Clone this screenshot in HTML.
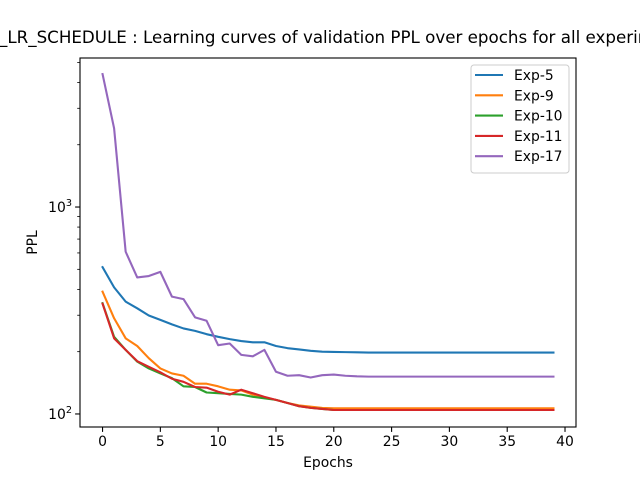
<!DOCTYPE html>
<html><head><meta charset="utf-8"><style>
body{margin:0;background:#fff}
svg{display:block;font-family:"DejaVu Sans","Liberation Sans",sans-serif}
</style></head><body>
<svg id="chart" width="640" height="480" viewBox="0 0 640 480">
<rect width="640" height="480" fill="#fff"/>
<text x="-1" y="43" font-size="16.7" fill="#000">_LR_SCHEDULE : Learning curves of validation PPL over epochs for all experiments</text>
<g id="plot"></g>
</svg>
<script>
const epochs = Array.from({length:40},(_,i)=>i);
const exp5 = [512,409,349,324,299,285,271,259,252,243,236,230,225,222,222,213,208,205,202,200,199.5,199,198.5,198,198,198,198,198,198,198,198,198,198,198,198,198,198,198,198,198];
const exp9 = [390,290,232,213,186,166,157,153,140,140,136,131,130,124,120,117,113,110,108.5,107,106.5,106.5,106.5,106.5,106.5,106.5,106.5,106.5,106.5,106.5,106.5,106.5,106.5,106.5,106.5,106.5,106.5,106.5,106.5,106.5];
const exp10 = [343,236,204,179,166,157,149,136,135,127,126,125,124,121,119,117,113,109,107,105.7,104.5,104.5,104.5,104.5,104.5,104.5,104.5,104.5,104.5,104.5,104.5,104.5,104.5,104.5,104.5,104.5,104.5,104.5,104.5,104.5];
const exp11 = [341,232,204,180,169,159,148,143,135,134,128,124,131,126,121,117,113,109,107,105.7,104.5,104.5,104.5,104.5,104.5,104.5,104.5,104.5,104.5,104.5,104.5,104.5,104.5,104.5,104.5,104.5,104.5,104.5,104.5,104.5];
const exp17 = [4390,2400,608,457,464,486,369,359,293,282,215,219,193,190,204,160,153,154,150,154,155,153,152,151.5,151.5,151.5,151.5,151.5,151.5,151.5,151.5,151.5,151.5,151.5,151.5,151.5,151.5,151.5,151.5,151.5];
const seriesNames = ["Exp-5","Exp-9","Exp-10","Exp-11","Exp-17"];
const xTicks = [0,5,10,15,20,25,30,35,40];

const NS="http://www.w3.org/2000/svg";
const g=document.getElementById('plot');
const L=80,R=576,T=58,B=427;
const xmin=-1.95,xmax=40.95;
const lmin=Math.log10(86.5),lmax=Math.log10(5250);
const sx=v=>L+(v-xmin)/(xmax-xmin)*(R-L);
const sy=v=>B-(Math.log10(v)-lmin)/(lmax-lmin)*(B-T);
function mk(t,a,p){const e=document.createElementNS(NS,t);for(const k in a)e.setAttribute(k,a[k]);(p||g).appendChild(e);return e;}

const colors=["#1f77b4","#ff7f0e","#2ca02c","#d62728","#9467bd"];
const data=[exp5,exp9,exp10,exp11,exp17];
data.forEach((s,k)=>{
  const p=mk('polyline',{points:s.map((v,i)=>sx(epochs[i]).toFixed(2)+','+sy(v).toFixed(2)).join(' '),fill:'none',stroke:colors[k],'stroke-width':2.1,'stroke-linejoin':'round','stroke-linecap':'square'});
  
  
});
const frame=mk('rect',{x:L,y:T,width:R-L,height:B-T,fill:'none',stroke:'#000','stroke-width':1.1});


xTicks.forEach(t=>{
  const x=sx(t);
  mk('line',{x1:x,x2:x,y1:B,y2:B+4.9,stroke:'#000','stroke-width':1.1});
  const tx=mk('text',{x:x,y:B+19,'font-size':13.9,'text-anchor':'middle'});
  tx.textContent=t;
  
  
});
[100,1000].forEach((v,i)=>{
  const y=sy(v);
  mk('line',{x1:L-4.9,x2:L,y1:y,y2:y,stroke:'#000','stroke-width':1.1});
  const tx=mk('text',{x:L-8,y:y+5,'font-size':13.9,'text-anchor':'end'});
  tx.innerHTML='10<tspan dy="-6" font-size="9.7">'+(i+2)+'</tspan>';
  
  
});
[200,300,400,500,600,700,800,900,2000,3000,4000,5000].forEach(v=>{
  const y=sy(v);mk('line',{x1:L-2.8,x2:L,y1:y,y2:y,stroke:'#000','stroke-width':0.8});
});
const xl=mk('text',{x:(L+R)/2,y:467,'font-size':13.9,'text-anchor':'middle'});xl.textContent='Epochs';


const yl=mk('text',{x:37,y:(T+B)/2,'font-size':13.9,'text-anchor':'middle',transform:'rotate(-90 37 '+(T+B)/2+')'});yl.textContent='PPL';


const lg=mk('g',{});


mk('rect',{x:471,y:65,width:98,height:108,rx:3,fill:'#fff',stroke:'#ccc','stroke-width':1},lg);
seriesNames.forEach((n,k)=>{
  const y=75+k*20.3;
  const en=mk('g',{},lg);
  
  
  mk('line',{x1:475,x2:503,y1:y,y2:y,stroke:colors[k],'stroke-width':2.1},en);
  const t=mk('text',{x:514,y:y+5,'font-size':13.9},en);t.textContent=n;
});
</script>
</body></html>
